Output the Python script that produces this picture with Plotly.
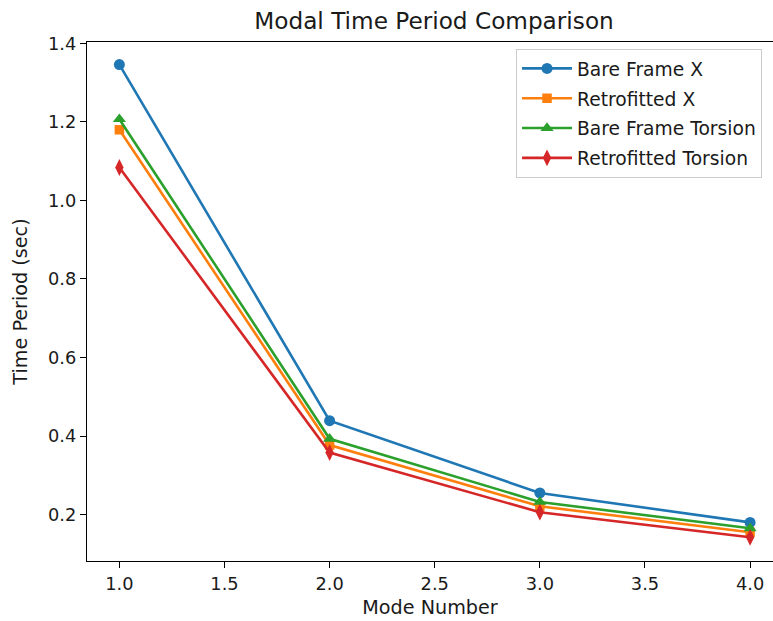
import plotly.graph_objects as go

modes = [1, 2, 3, 4]
bare_x = [1.346, 0.439, 0.255, 0.180]
retro_x = [1.180, 0.377, 0.221, 0.155]
bare_torsion = [1.207, 0.393, 0.232, 0.165]
retro_torsion = [1.084, 0.358, 0.206, 0.142]

series_names = ["Bare Frame X", "Retrofitted X", "Bare Frame Torsion", "Retrofitted Torsion"]
series_values = [bare_x, retro_x, bare_torsion, retro_torsion]
colors = ["#1f77b4", "#ff7f0e", "#2ca02c", "#d62728"]
symbols = ["circle", "square", "triangle-up", "diamond-tall"]
sizes = [11, 9.5, 11.5, 12]

x_ticks = [1.0, 1.5, 2.0, 2.5, 3.0, 3.5, 4.0]
y_ticks = [0.2, 0.4, 0.6, 0.8, 1.0, 1.2, 1.4]

font = "DejaVu Sans"
txt = "#1a1a1a"

fig = go.Figure()
for i, (name, vals) in enumerate(zip(series_names, series_values)):
    fig.add_trace(go.Scatter(
        x=modes, y=vals, name=name, mode="lines+markers",
        line=dict(color=colors[i], width=2.6),
        marker=dict(symbol=symbols[i], size=sizes[i], color=colors[i]),
        legendgroup=f"g{i}",
    ))

fig.update_layout(
    width=773, height=621,
    margin=dict(l=87, r=0, t=42.3, b=60.3),
    paper_bgcolor="white", plot_bgcolor="white",
    font=dict(family=font, size=17.8, color=txt),
    title=dict(text="Modal Time Period Comparison", x=434 / 773, xref="container",
               xanchor="center", y=1 - 21 / 621, yref="container", yanchor="middle",
               font=dict(size=23.2, color=txt, family=font)),
    showlegend=True,
    legend=dict(x=0.6254, xanchor="left", y=0.987, yanchor="top",
                bgcolor="rgba(255,255,255,0.8)", bordercolor="#cccccc", borderwidth=1,
                font=dict(size=18.7, family=font, color=txt),
                itemwidth=50, tracegroupgap=2.5),
    xaxis=dict(range=[0.846, 4.109], tickvals=x_ticks, ticktext=[f"{v:.1f}" for v in x_ticks],
               showline=True, linecolor="black", linewidth=1.3, mirror=True,
               ticks="outside", ticklen=6, tickwidth=1.3, tickcolor="black",
               tickfont=dict(size=17.8),
               showgrid=False, zeroline=False, automargin=False,
               title=dict(text="Mode Number", standoff=8, font=dict(size=19.2))),
    yaxis=dict(range=[0.0817, 1.4036], tickvals=y_ticks, ticktext=[f"{v:.1f}" for v in y_ticks],
               showline=True, linecolor="black", linewidth=1.3, mirror=False,
               ticks="outside", ticklen=6, tickwidth=1.3, tickcolor="black",
               tickfont=dict(size=17.8),
               showgrid=False, zeroline=False, automargin=False,
               title=dict(text="Time Period (sec)", standoff=15, font=dict(size=19.2))),
)

fig.write_html(
    "out.html",
    config={"displayModeBar": False},
    post_script="document.body.style.margin='0';document.documentElement.style.overflow='hidden';",
)
